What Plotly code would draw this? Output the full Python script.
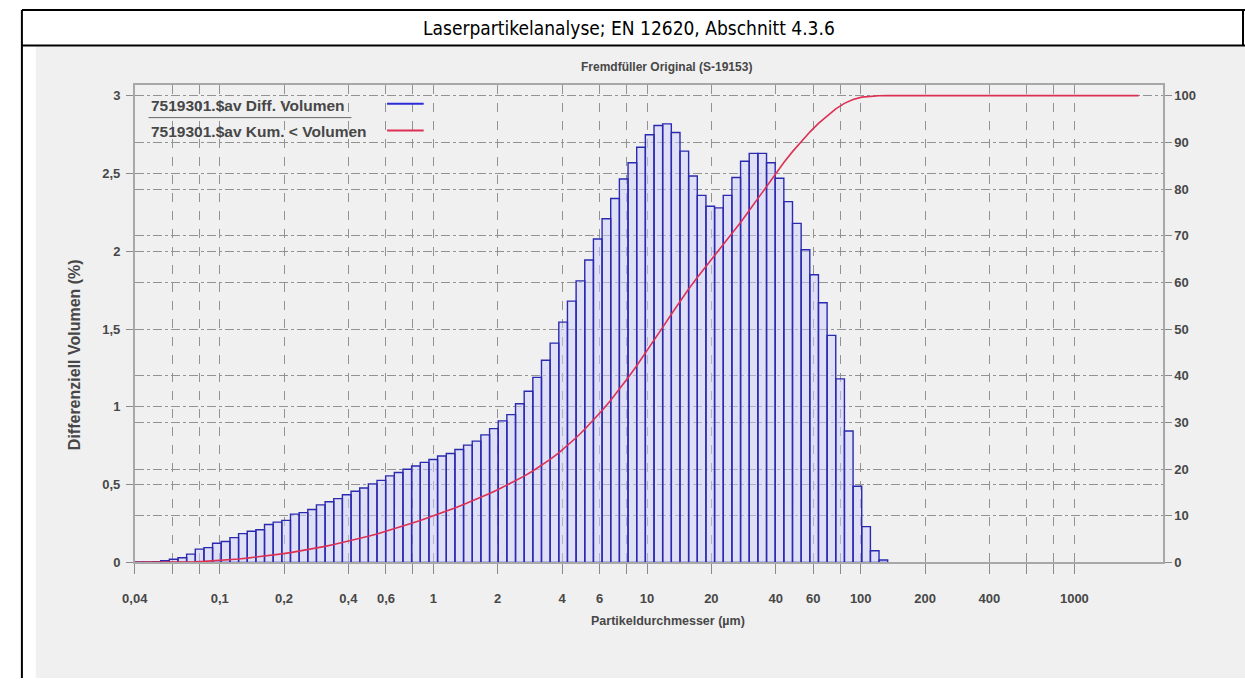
import numpy as np
import plotly.graph_objects as go

W, H = 1245, 686

# Channel edges (µm) of the laser diffraction instrument (117 edges -> 116 channels)
edges_um = [
    0.04, 0.04391, 0.0482, 0.05291, 0.05808, 0.06376, 0.06999, 0.07683, 0.08434, 0.09258,
    0.1016, 0.1116, 0.1225, 0.1345, 0.1476, 0.1620, 0.1779, 0.1952, 0.2143, 0.2353,
    0.2583, 0.2835, 0.3112, 0.3417, 0.3750, 0.4117, 0.4519, 0.4961, 0.5446, 0.5978,
    0.6563, 0.7204, 0.7908, 0.8682, 0.9530, 1.046, 1.149, 1.261, 1.384, 1.520,
    1.668, 1.832, 2.011, 2.207, 2.423, 2.660, 2.920, 3.205, 3.519, 3.863,
    4.240, 4.655, 5.110, 5.610, 6.158, 6.760, 7.421, 8.147, 8.943, 9.817,
    10.78, 11.83, 12.99, 14.26, 15.65, 17.18, 18.86, 20.70, 22.73, 24.95,
    27.39, 30.07, 33.01, 36.24, 39.78, 43.67, 47.94, 52.62, 57.77, 63.41,
    69.61, 76.42, 83.89, 92.09, 101.1, 111.0, 121.8, 133.7, 146.8, 161.2,
    176.8, 194.2, 213.2, 234.0, 256.8, 282.0, 309.5, 339.8, 373.0, 409.4,
    449.4, 493.4, 541.6, 594.6, 652.7, 716.5, 786.6, 863.4, 947.8, 1041,
    1142, 1254, 1377, 1511, 1659, 1821, 2000,
]

# Differential volume (%) per channel
diff_volume = [
    0.002, 0.003, 0.005, 0.01, 0.02,
    0.03, 0.053, 0.085, 0.095, 0.123, 0.134, 0.159, 0.185, 0.20, 0.21,
    0.244, 0.259, 0.27, 0.31, 0.32, 0.34, 0.37, 0.39, 0.41, 0.435,
    0.457, 0.478, 0.505, 0.527, 0.556, 0.578, 0.599, 0.62, 0.643, 0.662,
    0.684, 0.70, 0.726, 0.754, 0.78, 0.82, 0.86, 0.91, 0.95, 1.02,
    1.10, 1.19, 1.30, 1.41, 1.545, 1.68, 1.81, 1.945, 2.08, 2.21,
    2.34, 2.465, 2.57, 2.67, 2.75, 2.81, 2.82, 2.765, 2.645, 2.485,
    2.36, 2.29, 2.28, 2.36, 2.475, 2.58, 2.63, 2.63, 2.57, 2.47,
    2.32, 2.18, 2.01, 1.85, 1.67, 1.46, 1.18, 0.845, 0.49, 0.23,
    0.075, 0.015,
] + [0.0] * 29

# Cumulative undersize volume (%) at the channel edges
cum_volume = [0.0] + list(np.cumsum(diff_volume))

# Axis ticks / grid
x_grid_vals = [0.04, 0.06, 0.08, 0.1, 0.2, 0.4, 0.6, 0.8, 1, 2, 4, 6, 8, 10, 20, 40, 60, 80,
               100, 200, 400, 600, 800, 1000]
x_grid_text = ["0,04", "", "", "0,1", "0,2", "0,4", "0,6", "", "1", "2", "4", "6", "", "10",
               "20", "40", "60", "", "100", "200", "400", "", "", "1000"]
y_left_vals = [0, 0.5, 1, 1.5, 2, 2.5, 3]
y_left_text = ["0", "0,5", "1", "1,5", "2", "2,5", "3"]
y_right_vals = [0, 10, 20, 30, 40, 50, 60, 70, 80, 90, 100]

title_main = "Laserpartikelanalyse; EN 12620, Abschnitt 4.3.6"
title_sub = "Fremdfüller Original (S-19153)"
x_title = "Partikeldurchmesser (µm)"
y_title = "Differenziell Volumen (%)"
legend_names = ["7519301.$av Diff. Volumen", "7519301.$av Kum. < Volumen"]


def fx(px):
    return px / W


def fy(py):
    return 1 - py / H


# plot area in pixels
PL, PR, PT, PB = 123, 1162, 86, 569
FONT = "Liberation Sans, Arial, sans-serif"
TXT = "#474747"

# bars as outlined polygons (one trace, gaps separate the bars)
bx, by = [], []
for i, v in enumerate(diff_volume):
    if v <= 0:
        continue
    a, b = edges_um[i], edges_um[i + 1]
    bx += [a, a, b, b, a, None]
    by += [0, v, v, 0, 0, None]

fig = go.Figure()
fig.add_trace(go.Scatter(
    x=bx, y=by, mode="lines", fill="toself",
    fillcolor="rgba(205,205,250,0.5)",
    line=dict(color="#2a2ab0", width=1.4),
    hoverinfo="skip", showlegend=False, xaxis="x", yaxis="y",
))
fig.add_trace(go.Scatter(
    x=edges_um, y=cum_volume, mode="lines",
    line=dict(color="#de3054", width=1.6),
    showlegend=False, xaxis="x", yaxis="y2",
))

tickfont = dict(family=FONT, size=13, color=TXT, weight="bold")

fig.update_layout(
    width=W, height=H,
    margin=dict(l=0, r=0, t=0, b=0),
    paper_bgcolor="white",
    plot_bgcolor="#f0f0f0",
    showlegend=False,
    xaxis=dict(
        type="log",
        domain=[fx(PL), fx(PR)],
        range=[np.log10(0.04), np.log10(2595)],
        tickvals=x_grid_vals, ticktext=x_grid_text,
        ticks="outside", ticklen=10, tickcolor="#8a8a8a", tickwidth=1,
        ticklabelstandoff=13,
        showgrid=True, gridcolor="#929292", gridwidth=1, griddash="dash",
        showline=True, linecolor="#a8a8a8", linewidth=1.5, mirror=True,
        zeroline=False, tickfont=tickfont,
    ),
    yaxis=dict(
        domain=[fy(PB), fy(PT)],
        range=[0, 3.07],
        tickvals=y_left_vals, ticktext=y_left_text,
        ticks="outside", ticklen=7, tickcolor="#8a8a8a",
        ticklabelstandoff=3,
        showgrid=True, gridcolor="#929292", gridwidth=1, griddash="dashdot",
        showline=True, linecolor="#a8a8a8", linewidth=1.5, mirror=True,
        zeroline=False, tickfont=tickfont,
    ),
    yaxis2=dict(
        overlaying="y", side="right", anchor="x",
        range=[0, 102.33],
        tickvals=y_right_vals,
        ticks="outside", ticklen=7, tickcolor="#8a8a8a",
        showgrid=True, gridcolor="#929292", gridwidth=1, griddash="dashdot",
        showline=True, linecolor="#a8a8a8", linewidth=1.5,
        zeroline=False, tickfont=tickfont,
    ),
)

shapes = [
    # grey chart background
    dict(type="rect", xref="paper", yref="paper", x0=fx(23), x1=1.0, y0=0, y1=fy(47),
         fillcolor="#f0f0f0", line=dict(width=0), layer="below"),
    # black table frame
    dict(type="line", xref="paper", yref="paper", x0=fx(9), x1=fx(1245), y0=fy(10), y1=fy(10),
         line=dict(color="black", width=2)),
    dict(type="line", xref="paper", yref="paper", x0=fx(9), x1=fx(1245), y0=fy(46), y1=fy(46),
         line=dict(color="black", width=2)),
    dict(type="line", xref="paper", yref="paper", x0=fx(9), x1=fx(9), y0=fy(10), y1=0,
         line=dict(color="black", width=2)),
    dict(type="line", xref="paper", yref="paper", x0=fx(1243), x1=fx(1243), y0=fy(10), y1=fy(46),
         line=dict(color="black", width=2)),
    # legend
    dict(type="line", xref="paper", yref="paper", x0=fx(137), x1=fx(342), y0=fy(119), y1=fy(119),
         line=dict(color="#666666", width=1)),
    dict(type="line", xref="paper", yref="paper", x0=fx(378), x1=fx(415), y0=fy(105), y1=fy(105),
         line=dict(color="#2b2bd6", width=2)),
    dict(type="line", xref="paper", yref="paper", x0=fx(378), x1=fx(415), y0=fy(132), y1=fy(132),
         line=dict(color="#de3054", width=2)),
]

annotations = [
    dict(text=title_main, x=fx(623), y=fy(28), xref="paper", yref="paper",
         xanchor="center", yanchor="middle", showarrow=False,
         font=dict(family="DejaVu Sans Condensed, Liberation Sans Narrow, sans-serif",
                   size=19, color="black")),
    dict(text=title_sub, x=fx(660), y=fy(68), xref="paper", yref="paper",
         xanchor="center", yanchor="middle", showarrow=False,
         font=dict(family=FONT, size=12, color=TXT, weight="bold")),
    dict(text=x_title, x=fx(662), y=fy(628), xref="paper", yref="paper",
         xanchor="center", yanchor="middle", showarrow=False,
         font=dict(family=FONT, size=12.5, color=TXT, weight="bold")),
    dict(text=y_title, x=fx(62), y=fy(359), xref="paper", yref="paper",
         xanchor="center", yanchor="middle", showarrow=False, textangle=-90,
         font=dict(family=FONT, size=16, color=TXT, weight="bold")),
    dict(text=legend_names[0], x=fx(137), y=fy(107), xref="paper", yref="paper",
         xanchor="left", yanchor="middle", showarrow=False,
         font=dict(family=FONT, size=15.5, color=TXT, weight="bold")),
    dict(text=legend_names[1], x=fx(137), y=fy(133), xref="paper", yref="paper",
         xanchor="left", yanchor="middle", showarrow=False,
         font=dict(family=FONT, size=15.5, color=TXT, weight="bold")),
]

fig.update_layout(shapes=shapes, annotations=annotations)
fig.write_html(
    "out.html",
    config={"displayModeBar": False},
    post_script="document.body.style.margin='0';document.body.style.overflow='hidden';",
)
